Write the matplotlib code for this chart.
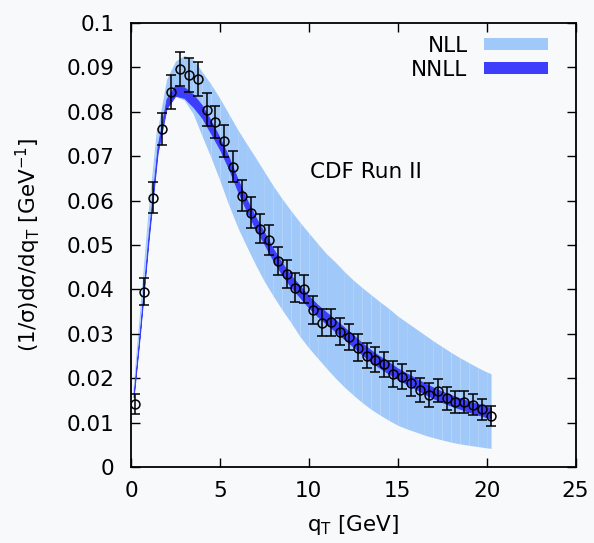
import numpy as np
import matplotlib
matplotlib.use('Agg')
from matplotlib import pyplot as plt
from matplotlib.patches import Patch

plt.rcParams['font.family'] = ['DejaVu Sans']
plt.rcParams['mathtext.default'] = 'regular'

# CDF Run II data
qt = [0.25, 0.75, 1.25, 1.75, 2.25, 2.75, 3.25, 3.75, 4.25, 4.75,
      5.25, 5.75, 6.25, 6.75, 7.25, 7.75, 8.25, 8.75, 9.25, 9.75,
      10.25, 10.75, 11.25, 11.75, 12.25, 12.75, 13.25, 13.75, 14.25, 14.75,
      15.25, 15.75, 16.25, 16.75, 17.25, 17.75, 18.25, 18.75, 19.25, 19.75, 20.25]
dsig = [0.0142, 0.0395, 0.0606, 0.0761, 0.0845, 0.0896, 0.0882, 0.0873, 0.0805, 0.0777,
        0.0733, 0.0676, 0.0611, 0.0573, 0.0537, 0.0511, 0.0464, 0.0434, 0.0404, 0.0401,
        0.0353, 0.0325, 0.0326, 0.0305, 0.0293, 0.0269, 0.0251, 0.0242, 0.0231, 0.0210,
        0.0203, 0.0188, 0.0173, 0.0162, 0.0172, 0.0155, 0.0147, 0.0147, 0.0140, 0.0130, 0.0115]
err = [0.0023, 0.0031, 0.0035, 0.0037, 0.0038, 0.0038, 0.0038, 0.0038, 0.0037, 0.0036,
       0.0036, 0.0035, 0.0035, 0.0034, 0.0033, 0.0033, 0.0032, 0.0032, 0.0032, 0.0031,
       0.0032, 0.0031, 0.0030, 0.0030, 0.0030, 0.0030, 0.0029, 0.0029, 0.0029, 0.0029,
       0.0028, 0.0028, 0.0027, 0.0027, 0.0026, 0.0026, 0.0025, 0.0025, 0.0024, 0.0024, 0.0023]

# theory bands
q_th = [0.15, 0.5, 1.0, 1.5, 2.0, 2.5, 3.0, 3.5, 4.0, 4.5,
        5.0, 5.5, 6.0, 6.5, 7.0, 7.5, 8.0, 8.5, 9.0, 9.5,
        10.0, 10.5, 11.0, 11.5, 12.0, 12.5, 13.0, 13.5, 14.0, 14.5,
        15.0, 15.5, 16.0, 16.5, 17.0, 17.5, 18.0, 18.5, 19.0, 19.5, 20.0, 20.25]
nll_hi = [0.0165, 0.0328, 0.0565, 0.0762, 0.0873, 0.0914, 0.0927, 0.0918, 0.0890, 0.0862,
          0.0830, 0.0795, 0.0760, 0.0728, 0.0697, 0.0665, 0.0633, 0.0604, 0.0577, 0.0551,
          0.0527, 0.0503, 0.0480, 0.0461, 0.0440, 0.0421, 0.0404, 0.0388, 0.0372, 0.0357,
          0.0340, 0.0326, 0.0312, 0.0298, 0.0284, 0.0271, 0.0258, 0.0246, 0.0235, 0.0224, 0.0214, 0.0210]
nll_lo = [0.0157, 0.0295, 0.0514, 0.0706, 0.0806, 0.0834, 0.0826, 0.0795, 0.0745, 0.0697,
          0.0645, 0.0590, 0.0540, 0.0497, 0.0456, 0.0418, 0.0385, 0.0354, 0.0325, 0.0294,
          0.0268, 0.0245, 0.0222, 0.0200, 0.0180, 0.0162, 0.0145, 0.0130, 0.0117, 0.0105,
          0.0094, 0.0086, 0.0079, 0.0072, 0.0066, 0.0061, 0.0056, 0.0052, 0.0049, 0.0046, 0.0043, 0.0042]
nnll_hi = [0.0163, 0.0304, 0.0526, 0.0723, 0.0829, 0.0860, 0.0855, 0.0839, 0.0814, 0.0779,
           0.0741, 0.0698, 0.0648, 0.0603, 0.0563, 0.0528, 0.0491, 0.0459, 0.0431, 0.0408,
           0.0385, 0.0365, 0.0348, 0.0331, 0.0314, 0.0297, 0.0279, 0.0263, 0.0249, 0.0236,
           0.0222, 0.0211, 0.0200, 0.0189, 0.0179, 0.0170, 0.0162, 0.0155, 0.0148, 0.0142, 0.0136, 0.0133]
nnll_lo = [0.0157, 0.0296, 0.0514, 0.0707, 0.0807, 0.0836, 0.0831, 0.0811, 0.0786, 0.0751,
           0.0715, 0.0672, 0.0622, 0.0577, 0.0537, 0.0502, 0.0465, 0.0433, 0.0405, 0.0382,
           0.0359, 0.0339, 0.0322, 0.0305, 0.0288, 0.0271, 0.0253, 0.0237, 0.0223, 0.0210,
           0.0198, 0.0187, 0.0176, 0.0165, 0.0155, 0.0146, 0.0138, 0.0131, 0.0124, 0.0118, 0.0112, 0.0109]

yticks = [0, 0.01, 0.02, 0.03, 0.04, 0.05, 0.06, 0.07, 0.08, 0.09, 0.1]
ytick_labels = ['0', '0.01', '0.02', '0.03', '0.04', '0.05', '0.06', '0.07', '0.08', '0.09', '0.1']
xticks = [0, 5, 10, 15, 20, 25]

c_nll = '#a0c9f9'
c_nnll = '#3d3dfc'
bg = '#f8f9fa'
fs = 15.5

fig = plt.figure(figsize=(5.94, 5.43), dpi=100, facecolor=bg)
ax = fig.add_axes([0.2205, 0.14, 0.7484, 0.8178])
ax.set_facecolor(bg)

# NLL band drawn strip by strip (gives the faint seams of the original)
for i in range(len(q_th) - 1):
    ax.fill_between(q_th[i:i + 2], nll_lo[i:i + 2], nll_hi[i:i + 2],
                    color=c_nll, lw=0, zorder=1)
ax.plot(q_th[:4], nll_hi[:4], color=c_nll, lw=0.8, zorder=1)
ax.fill_between(q_th, nnll_lo, nnll_hi, color=c_nnll, lw=0.6, zorder=2)
ax.errorbar(qt, dsig, yerr=err, fmt='o', mfc='none', mec='black', ms=6.4, mew=1.1,
            ecolor='black', elinewidth=1.1, capsize=3.7, capthick=1.1, zorder=3)

ax.text(10.05, 0.0664, 'CDF Run II', fontsize=fs, va='center', ha='left')

handles = [Patch(facecolor=c_nll, edgecolor='none'), Patch(facecolor=c_nnll, edgecolor='none')]
leg = ax.legend(handles, ['NLL', 'NNLL'], loc='upper right', frameon=False, markerfirst=False,
                fontsize=fs, handlelength=3.0, handleheight=0.5, handletextpad=0.75,
                labelspacing=0.18, borderaxespad=0.0, bbox_to_anchor=(0.958, 0.99))

ax.set_xlim(0, 25)
ax.set_ylim(0, 0.1)
ax.set_xticks(xticks)
ax.set_yticks(yticks)
ax.set_yticklabels(ytick_labels)
ax.tick_params(direction='in', length=6.5, width=1.0, top=True, right=True, labelsize=fs)
ax.tick_params(axis='x', pad=10)
ax.tick_params(axis='y', pad=12)
for s in ax.spines.values():
    s.set_linewidth(1.3)

ax.set_xlabel('q$_T$ [GeV]', fontsize=fs, labelpad=9)
ax.set_ylabel('(1/σ)dσ/dq$_T$ [GeV$^{-1}$]', fontsize=fs, labelpad=17)

fig.savefig('out.png', dpi=100, facecolor=bg)
